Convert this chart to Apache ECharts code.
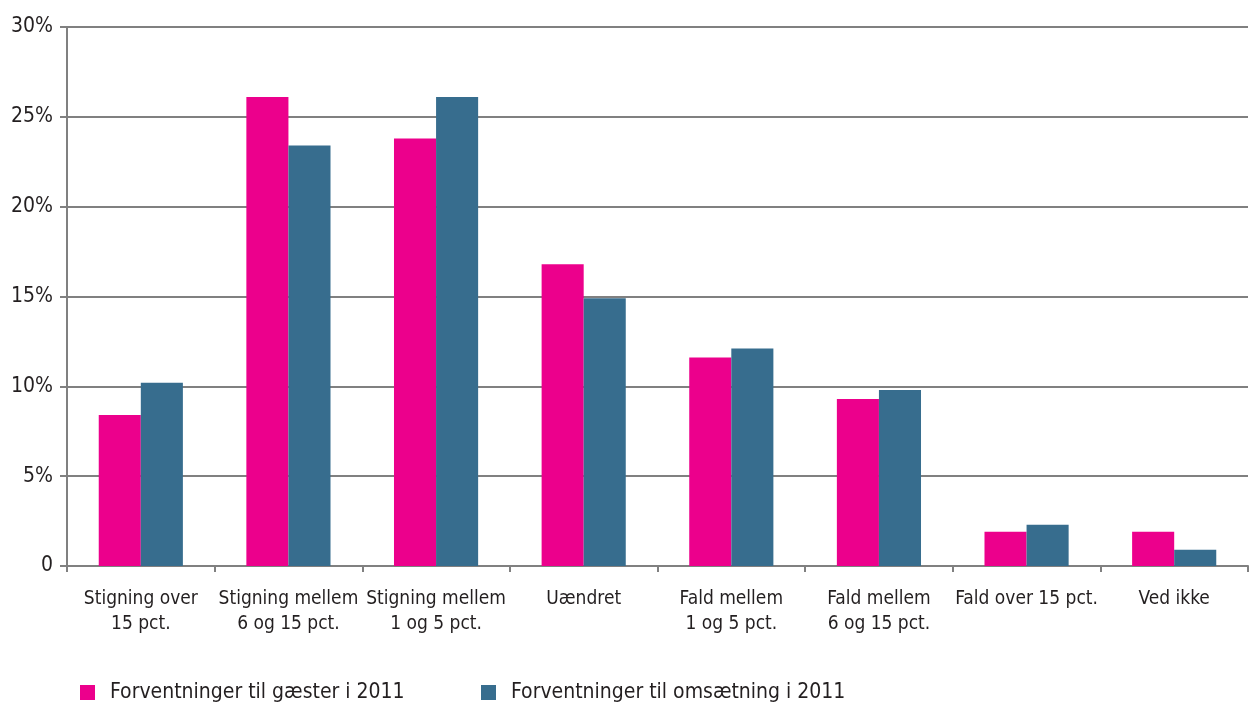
<!DOCTYPE html>
<html><head><meta charset="utf-8">
<script src="https://cdn.jsdelivr.net/npm/echarts@6/dist/echarts.min.js"></script>
<style>html,body{margin:0;padding:0;background:#fff}#c{width:1250px;height:704px}</style>
</head><body><div id="c"></div>
<script>
const categories = ["Stigning over\n15 pct.","Stigning mellem\n6 og 15 pct.","Stigning mellem\n1 og 5 pct.","Uændret","Fald mellem\n1 og 5 pct.","Fald mellem\n6 og 15 pct.","Fald over 15 pct.","Ved ikke"];
const gaester = [8.4, 26.1, 23.8, 16.8, 11.6, 9.3, 1.9, 1.9];
const omsaetning = [10.2, 23.4, 26.1, 14.9, 12.1, 9.8, 2.3, 0.9];
const seriesNames = ["Forventninger til gæster i 2011","Forventninger til omsætning i 2011"];
const yTicks = [0,5,10,15,20,25,30];

const FONT = '"Liberation Sans Narrow","DejaVu Sans Condensed",sans-serif';
const chart = echarts.init(document.getElementById('c'));
const legendText = {fontFamily:FONT,fontSize:21,color:'#231f20',padding:[0,0,0,10]};
chart.setOption({
  animation:false,
  textStyle:{fontFamily:FONT,color:'#231f20'},
  grid:{left:67,right:2,top:27,bottom:138,containLabel:false},
  legend:[
    {left:75,top:677,itemWidth:15,itemHeight:15,icon:'rect',data:[seriesNames[0]],textStyle:legendText},
    {left:476,top:677,itemWidth:15,itemHeight:15,icon:'rect',data:[seriesNames[1]],textStyle:legendText}
  ],
  xAxis:{type:'category',data:categories,offset:4,
    axisLine:{lineStyle:{color:'#808080',width:2}},
    axisTick:{show:true,length:6,lineStyle:{color:'#808080',width:2}},
    axisLabel:{fontFamily:FONT,fontSize:19,color:'#231f20',margin:17,lineHeight:25,interval:0}},
  yAxis:{type:'value',min:yTicks[0],max:yTicks[yTicks.length-1],interval:5,
    axisLine:{show:true,lineStyle:{color:'#808080',width:2}},
    axisTick:{show:true,length:7,lineStyle:{color:'#808080',width:2}},
    splitLine:{lineStyle:{color:'#808080',width:2}},
    axisLabel:{fontFamily:FONT,fontSize:21,color:'#231f20',margin:14,formatter:v=>v===0?'0':v+'%'}},
  series:[
    {name:seriesNames[0],type:'bar',data:gaester,barGap:'0%',barCategoryGap:'43%',itemStyle:{color:'#ec008c'}},
    {name:seriesNames[1],type:'bar',data:omsaetning,itemStyle:{color:'#376d8e'}}
  ]
});
</script></body></html>
